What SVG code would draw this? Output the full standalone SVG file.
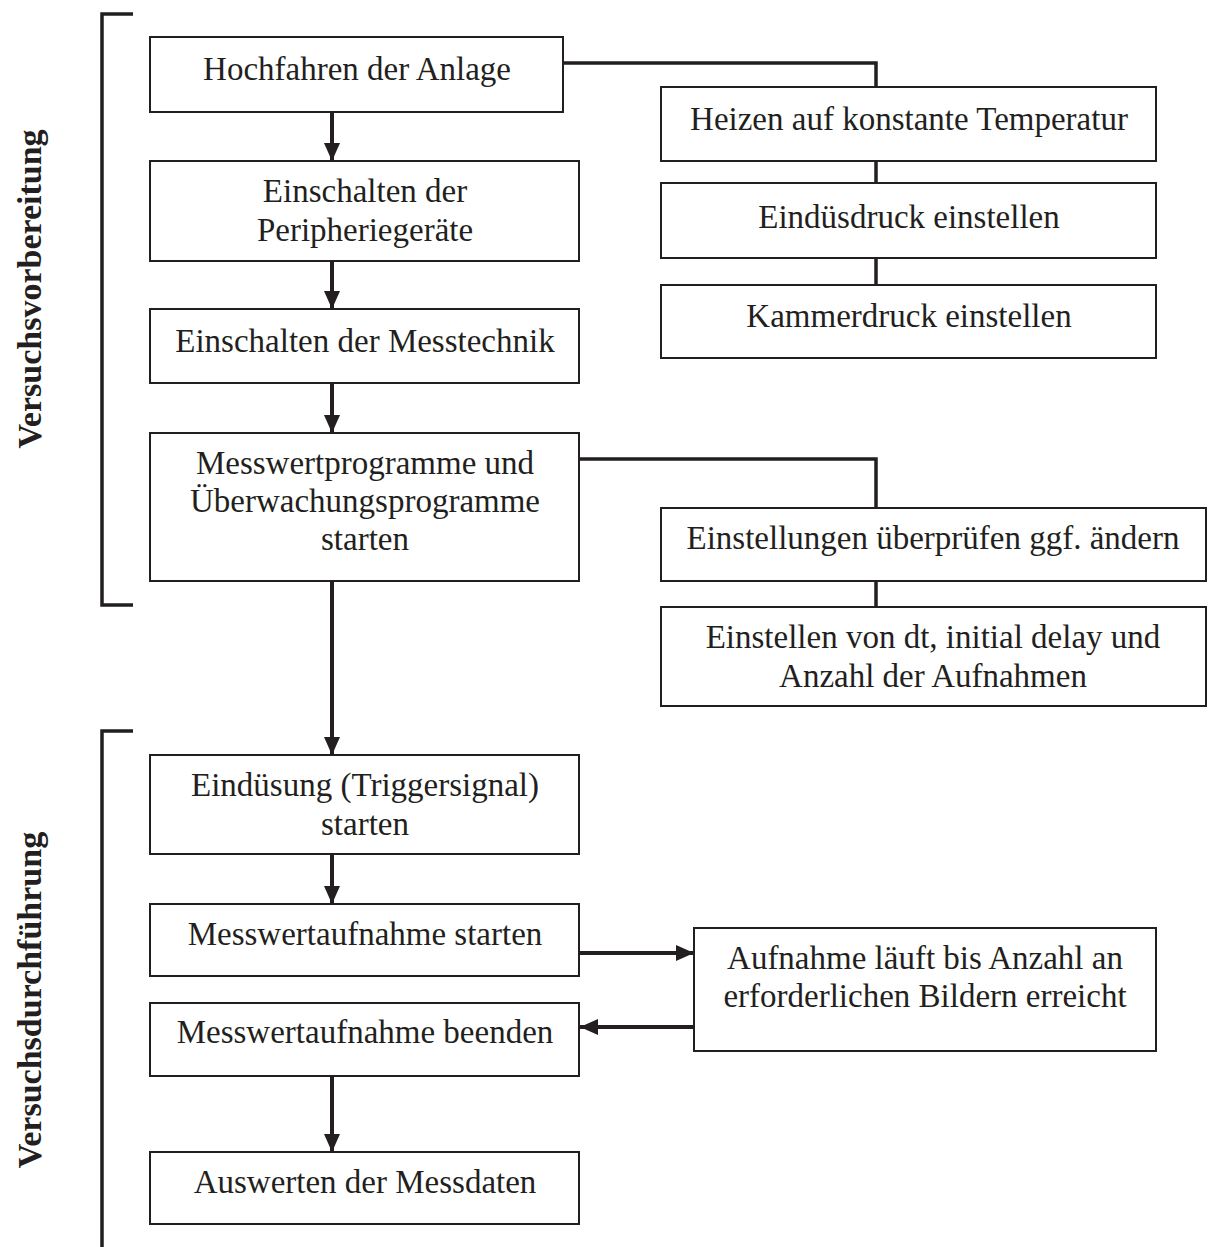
<svg xmlns="http://www.w3.org/2000/svg" width="1210" height="1247" viewBox="0 0 1210 1247">
<style>
.box{fill:#fff;stroke:#231f20;stroke-width:2}
.t{font-family:"Liberation Serif","Times New Roman",serif;font-size:33px;fill:#231f20;text-anchor:middle}
.lbl{font-family:"Liberation Serif","Times New Roman",serif;font-size:34px;font-weight:bold;fill:#231f20;text-anchor:middle}
.ln{fill:none;stroke:#231f20;stroke-width:3.5}
.ar{fill:none;stroke:#231f20;stroke-width:4}
.br{fill:none;stroke:#231f20;stroke-width:3.5}
</style>
<defs>
<marker id="ah" markerUnits="userSpaceOnUse" markerWidth="18" markerHeight="18" viewBox="0 0 18 18" refX="18" refY="9" orient="auto">
<path d="M0,1 L18,9 L0,17 Z" fill="#231f20"/>
</marker>
</defs>
<rect width="1210" height="1247" fill="#fff"/>
<g id="brackets">
<path class="br" d="M133,14 H102 V605 H133"/>
<path class="br" d="M133,731 H102 V1247"/>
</g>
<g id="phase-labels">
<text class="lbl" transform="translate(41,289) rotate(-90)">Versuchsvorbereitung</text>
<text class="lbl" transform="translate(41,1000) rotate(-90)">Versuchsdurchführung</text>
</g>
<g id="connectors">
<path class="ln" d="M563,63 H876 V87"/>
<path class="ln" d="M876,161 V183"/>
<path class="ln" d="M876,258 V285"/>
<path class="ln" d="M579,459 H876 V508"/>
<path class="ln" d="M876,581 V607"/>
<path class="ar" d="M332,112 V161" marker-end="url(#ah)"/>
<path class="ar" d="M332,261 V309" marker-end="url(#ah)"/>
<path class="ar" d="M332,383 V433" marker-end="url(#ah)"/>
<path class="ar" d="M332,581 V755" marker-end="url(#ah)"/>
<path class="ar" d="M332,854 V904" marker-end="url(#ah)"/>
<path class="ar" d="M332,1076 V1152" marker-end="url(#ah)"/>
<path class="ar" d="M579,953 H694" marker-end="url(#ah)"/>
<path class="ar" d="M694,1027 H580" marker-end="url(#ah)"/>
</g>
<g id="n1"><rect class="box" x="150" y="37" width="413" height="75"/><text class="t" x="357" y="80">Hochfahren der Anlage</text></g>
<g id="n2"><rect class="box" x="150" y="161" width="429" height="100"/><text class="t" x="365" y="202">Einschalten der</text><text class="t" x="365" y="241">Peripheriegeräte</text></g>
<g id="n3"><rect class="box" x="150" y="309" width="429" height="74"/><text class="t" x="365" y="352">Einschalten der Messtechnik</text></g>
<g id="n4"><rect class="box" x="150" y="433" width="429" height="148"/><text class="t" x="365" y="474">Messwertprogramme und</text><text class="t" x="365" y="512">Überwachungsprogramme</text><text class="t" x="365" y="550">starten</text></g>
<g id="n5"><rect class="box" x="661" y="87" width="495" height="74"/><text class="t" x="909" y="130">Heizen auf konstante Temperatur</text></g>
<g id="n6"><rect class="box" x="661" y="183" width="495" height="75"/><text class="t" x="909" y="228">Eindüsdruck einstellen</text></g>
<g id="n7"><rect class="box" x="661" y="285" width="495" height="73"/><text class="t" x="909" y="327">Kammerdruck einstellen</text></g>
<g id="n8"><rect class="box" x="661" y="508" width="545" height="73"/><text class="t" x="933" y="549">Einstellungen überprüfen ggf. ändern</text></g>
<g id="n9"><rect class="box" x="661" y="607" width="545" height="99"/><text class="t" x="933" y="648">Einstellen von dt, initial delay und</text><text class="t" x="933" y="687">Anzahl der Aufnahmen</text></g>
<g id="n10"><rect class="box" x="150" y="755" width="429" height="99"/><text class="t" x="365" y="796">Eindüsung (Triggersignal)</text><text class="t" x="365" y="835">starten</text></g>
<g id="n11"><rect class="box" x="150" y="904" width="429" height="72"/><text class="t" x="365" y="945">Messwertaufnahme starten</text></g>
<g id="n12"><rect class="box" x="694" y="928" width="462" height="123"/><text class="t" x="925" y="969">Aufnahme läuft bis Anzahl an</text><text class="t" x="925" y="1007">erforderlichen Bildern erreicht</text></g>
<g id="n13"><rect class="box" x="150" y="1003" width="429" height="73"/><text class="t" x="365" y="1043">Messwertaufnahme beenden</text></g>
<g id="n14"><rect class="box" x="150" y="1152" width="429" height="72"/><text class="t" x="365" y="1193">Auswerten der Messdaten</text></g>
</svg>
